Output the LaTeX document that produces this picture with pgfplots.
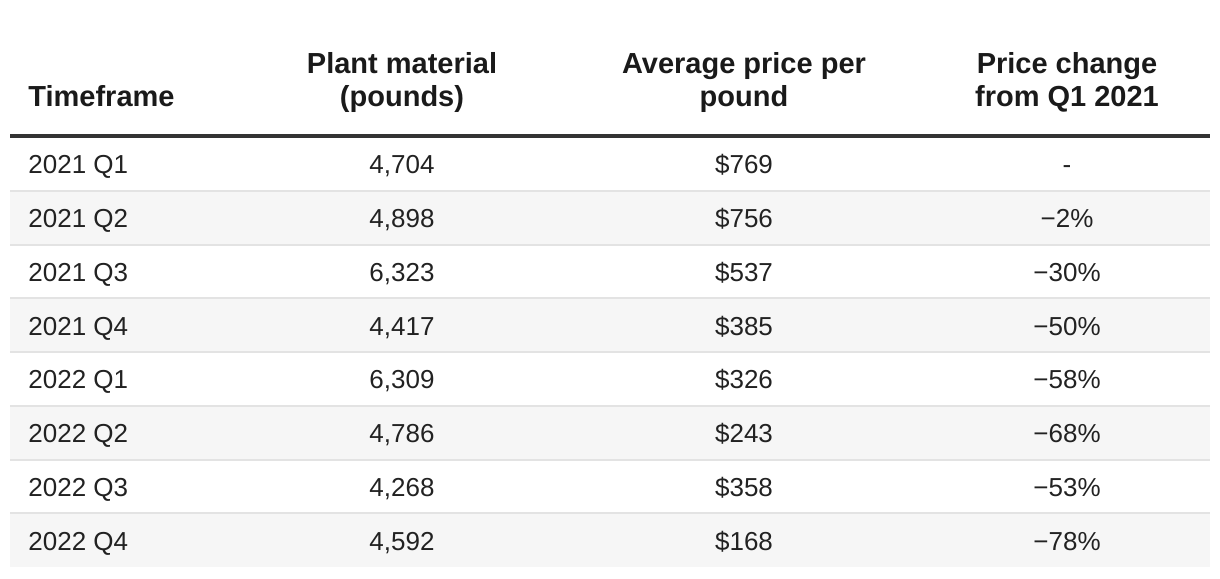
\documentclass[border=0pt]{standalone}
\usepackage{fontspec}
\setmainfont{Liberation Sans}
\usepackage{pgfplots}
\usepackage{pgfplotstable}
\pgfplotsset{compat=1.18}
\definecolor{txt}{HTML}{222222}
\definecolor{hdr}{HTML}{1A1A1A}
\definecolor{band}{HTML}{F6F6F6}
\definecolor{sep}{HTML}{E3E3E3}
\definecolor{rule}{HTML}{333333}

\pgfplotstableread[col sep=comma]{
row,timeframe,pounds,price,change
1,2021 Q1,4704,769,0
2,2021 Q2,4898,756,-2
3,2021 Q3,6323,537,-30
4,2021 Q4,4417,385,-50
5,2022 Q1,6309,326,-58
6,2022 Q2,4786,243,-68
7,2022 Q3,4268,358,-53
8,2022 Q4,4592,168,-78
}\datatable

\begin{document}
\begin{tikzpicture}
\begin{axis}[
  x=0.5pt, y=0.5pt, y dir=reverse,
  xmin=0, xmax=1220, ymin=0, ymax=578,
  hide axis, clip=false,
  /pgf/number format/assume math mode=true,
  /pgf/number format/1000 sep={,},
  every node near coord/.style={anchor=base, inner sep=0pt, font=\fontsize{13}{15}\selectfont, text=txt},
]
\path (rel axis cs:0,0) rectangle (rel axis cs:1,1);
% row bands
\fill[band] (axis cs:10,190.75) rectangle (axis cs:1210,244.5);
\fill[band] (axis cs:10,298.25) rectangle (axis cs:1210,352);
\fill[band] (axis cs:10,405.75) rectangle (axis cs:1210,459.5);
\fill[band] (axis cs:10,513.25) rectangle (axis cs:1210,567);
% separators
\draw[sep, line width=1pt] (axis cs:10,190.75) -- (axis cs:1210,190.75);
\draw[sep, line width=1pt] (axis cs:10,244.5) -- (axis cs:1210,244.5);
\draw[sep, line width=1pt] (axis cs:10,298.25) -- (axis cs:1210,298.25);
\draw[sep, line width=1pt] (axis cs:10,352) -- (axis cs:1210,352);
\draw[sep, line width=1pt] (axis cs:10,405.75) -- (axis cs:1210,405.75);
\draw[sep, line width=1pt] (axis cs:10,459.5) -- (axis cs:1210,459.5);
\draw[sep, line width=1pt] (axis cs:10,513.25) -- (axis cs:1210,513.25);
% header rule
\draw[rule, line width=2pt] (axis cs:10,136) -- (axis cs:1210,136);
% header
\begin{scope}[every node/.style={anchor=base, inner sep=0pt, text=hdr, font=\fontsize{14.5}{17}\selectfont\bfseries}]
\node[anchor=base west] at (axis cs:28,106) {Timeframe};
\node at (axis cs:402,73) {Plant material};
\node at (axis cs:402,106) {(pounds)};
\node at (axis cs:744,73) {Average price per};
\node at (axis cs:744,106) {pound};
\node at (axis cs:1067,73) {Price change};
\node at (axis cs:1067,106) {from Q1 2021};
\end{scope}
% body
\addplot[draw=none, nodes near coords, point meta=explicit symbolic,
  every node near coord/.append style={anchor=base west}]
  table[x expr=28, y expr={137+53.75*(\thisrow{row}-0.5)+10}, meta=timeframe] {\datatable};
\addplot[draw=none, nodes near coords, point meta=explicit]
  table[x expr=402, y expr={137+53.75*(\thisrow{row}-0.5)+10}, meta=pounds] {\datatable};
\addplot[draw=none, nodes near coords={\$\pgfmathprintnumber{\pgfplotspointmeta}}, point meta=explicit]
  table[x expr=744, y expr={137+53.75*(\thisrow{row}-0.5)+10}, meta=price] {\datatable};
\addplot[draw=none, nodes near coords={−\pgfmathprintnumber{\pgfplotspointmeta}\%},
  point meta={-\thisrow{change}}, skip coords between index={0}{1}]
  table[x expr=1067, y expr={137+53.75*(\thisrow{row}-0.5)+10}] {\datatable};
\addplot[draw=none, nodes near coords={-}] coordinates {(1067,173.9)};
\end{axis}
\end{tikzpicture}
\end{document}
